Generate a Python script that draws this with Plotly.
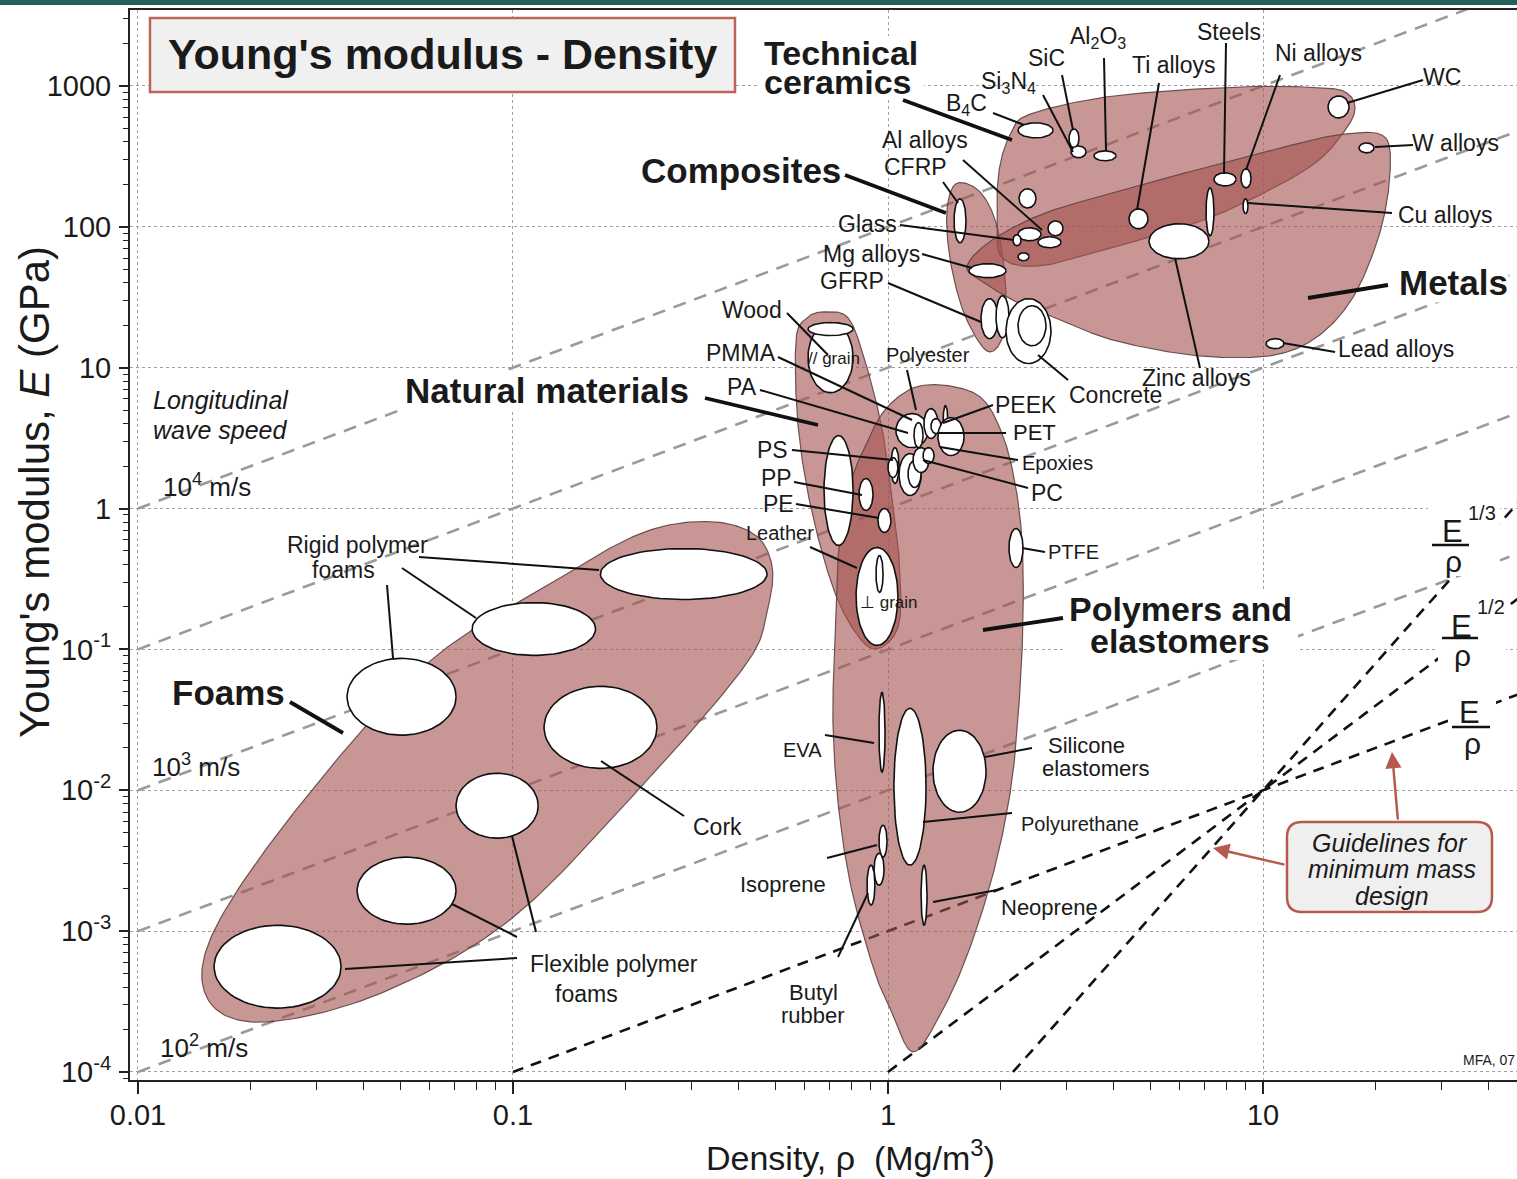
import numpy as np
import plotly.graph_objects as go

# ===================== DATA =====================
# Family envelopes: boundary control points (density Mg/m^3, modulus GPa)
FOAMS_RHO = [0.327, 0.4365, 0.4905, 0.476, 0.416, 0.219, 0.0988, 0.0445, 0.0217, 0.0154, 0.0158, 0.0261,
             0.0583, 0.129, 0.219]
FOAMS_E = [0.809, 0.665, 0.394, 0.189, 0.077, 0.0105, 0.00122, 3.63e-4, 2.26e-4, 3.24e-4, 9.52e-4, 0.00698,
           0.077, 0.304, 0.665]

NATURAL_RHO = [0.675, 0.782, 0.863, 0.958, 1.019, 1.070, 1.070, 0.946, 0.837, 0.718, 0.623, 0.575, 0.568, 0.604]
NATURAL_E = [24.9, 22.6, 11.8, 4.01, 1.342, 0.449, 0.153, 0.1016, 0.1217, 0.262, 1.016, 4.01, 15.5, 22.3]

POLYMERS_RHO = [1.173, 1.445, 1.770, 2.001, 2.168, 2.277, 2.291, 2.236, 2.128, 1.918, 1.634, 1.385, 1.166,
                1.018, 0.918, 0.797, 0.736, 0.713, 0.722, 0.736, 0.782, 0.884, 0.988]
POLYMERS_E = [7.21, 7.45, 6.13, 3.57, 1.66, 0.593, 0.1606, 0.0414, 0.0105, 0.00271, 6.98e-4, 2.62e-4, 1.39e-4,
              2.75e-4, 5.29e-4, 0.00205, 0.00809, 0.0314, 0.1158, 0.449, 1.342, 3.04, 5.12]

COMPOSITES_RHO = [1.518, 1.748, 1.941, 2.051, 2.051, 1.941, 1.792, 1.585, 1.463, 1.436]
COMPOSITES_E = [202, 180, 107, 44.9, 19.9, 13.6, 13.9, 25.4, 59.3, 130]

CERAMICS_RHO = [2.406, 4.005, 8.735, 14.54, 16.85, 17.59, 16.65, 14.02, 10.31, 6.835, 3.860, 2.559, 2.026,
                1.953, 1.977, 2.128]
CERAMICS_E = [633, 849, 984, 968, 877, 687, 495, 294, 180, 110, 69.8, 52.9, 59.3, 102, 250, 464]

METALS_RHO = [1.624, 1.882, 2.559, 3.860, 5.789, 8.735, 13.18, 16.65, 20.39, 21.81, 21.41, 19.77, 17.16,
              14.10, 11.17, 8.216, 5.789, 3.860, 2.840, 2.222, 1.803]
METALS_E = [52.0, 79.6, 122, 171, 230, 304, 407, 457, 457, 346, 153, 67.6, 29.9, 16.9, 12.57, 11.78, 12.78,
            16.06, 22.26, 28.9, 40.1]

# Material property bubbles: density range and modulus range
MAT_NAME = ["Rigid foam 1", "Rigid foam 2", "Rigid foam 3", "Cork", "Flexible foam 1", "Flexible foam 2",
            "Flexible foam 3",
            "Wood // grain", "Wood // grain cap", "Wood (other)", "Leather", "Wood perp grain",
            "PP", "PE", "PA", "PMMA", "Polyester", "Polyester b", "PEEK", "PET", "PS", "PS b", "PC", "PC b",
            "Epoxies", "Epoxies b", "PTFE", "EVA", "Polyurethane", "Silicone elastomers", "Isoprene",
            "Natural rubber", "Butyl rubber", "Neoprene",
            "CFRP", "GFRP", "GFRP b", "Concrete", "Concrete inner",
            "B4C", "SiC", "Si3N4", "Al2O3", "Glass ceramic", "Al alloys", "CFRP b", "Al alloys b", "Glass",
            "Silica", "Mg alloys", "Ti alloys", "Zinc alloys", "Cast irons", "Steels", "Ni alloys", "Cu alloys",
            "WC", "W alloys", "Lead alloys"]
RHO_LO = [0.171, 0.0778, 0.0361, 0.121, 0.0705, 0.0384, 0.01595,
          0.612, 0.612, 0.675, 0.822, 0.929,
          0.837, 0.940, 1.050, 1.173, 1.247, 1.302, 1.402, 1.359, 1.018, 1.000, 1.070, 1.131,
          1.166, 1.240, 2.102, 0.946, 1.037, 1.318, 0.946,
          0.918, 0.879, 1.225,
          1.500, 1.770, 1.941, 2.064, 2.222,
          2.222, 3.039, 3.076, 3.542, 2.236, 2.222, 2.671, 2.512, 2.154,
          2.222, 1.644, 4.392, 4.966, 7.047, 7.40, 8.735, 8.845,
          14.91, 18.03, 10.19]
RHO_HI = [0.476, 0.166, 0.0705, 0.242, 0.1167, 0.0705, 0.0348,
          0.807, 0.807, 0.807, 1.063, 0.970,
          0.912, 1.018, 1.278, 1.240, 1.359, 1.385, 1.445, 1.595, 1.070, 1.063, 1.225, 1.225,
          1.286, 1.327, 2.291, 0.982, 1.263, 1.826, 0.994,
          0.976, 0.923, 1.271,
          1.614, 1.965, 2.102, 2.720, 2.638,
          2.754, 3.231, 3.373, 4.055, 2.481, 2.559, 2.929, 2.893, 2.263,
          2.377, 2.064, 4.935, 7.178, 7.40, 8.472, 9.290, 9.12,
          16.96, 19.77, 11.38]
E_LO = [0.226, 0.0906, 0.0246, 0.0143, 0.00457, 0.00112, 2.84e-4,
        6.65, 16.9, 0.5465, 0.1067, 0.2537,
        0.968, 0.676, 2.707, 2.707, 3.137, 3.40, 3.035, 2.376, 1.504, 1.66, 1.236, 1.409,
        1.80, 2.085, 0.3815, 0.01342, 0.00294, 0.00698, 0.00335,
        0.00212, 0.00153, 0.0011,
        77.0, 16.06, 16.3, 10.7, 14.3,
        428, 363, 309, 294, 136, 79.6, 86.3, 71.0, 73.3,
        57.4, 43.5, 96.8, 59.3, 86.3, 195, 189, 124,
        593, 335, 13.64]
E_HI = [0.52, 0.215, 0.0863, 0.0547, 0.0132, 0.00335, 0.0011,
        20.9, 20.9, 3.295, 0.529, 0.464,
        1.633, 1.0, 4.72, 4.07, 5.12, 4.35, 5.38, 4.42, 2.707, 2.30, 2.455, 2.19,
        2.707, 2.707, 0.721, 0.0495, 0.0382, 0.02664, 0.00565,
        0.00357, 0.00294, 0.00294,
        158, 30.9, 32.4, 30.9, 27.5,
        547, 495, 375, 346, 186, 98.4, 110, 84.9, 87.8,
        65.4, 54.7, 134, 105, 189, 242, 258, 158,
        849, 394, 16.06]

# Longitudinal wave speed guide lines (m/s), and minimum-mass guideline exponents
WAVE_SPEED = [10000, 3162, 1000, 316, 100]
GUIDE_POWER = [1, 2, 3]          # E/rho, E^1/2/rho, E^1/3/rho
GUIDE_ANCHOR = (10, 0.01)        # common point (density, modulus)
E_FLOOR = 1e-4                   # lines start on the lowest grid line

X_TICKVALS = [0.01, 0.1, 1, 10]
X_TICKTEXT = ["0.01", "0.1", "1", "10"]
Y_TICKVALS = [1e-4, 1e-3, 1e-2, 1e-1, 1, 10, 100, 1000]
Y_TICKTEXT = ["10<sup>-4</sup>", "10<sup>-3</sup>", "10<sup>-2</sup>", "10<sup>-1</sup>", "1", "10", "100", "1000"]

# ===================== LAYOUT CONSTANTS =====================
FIG_W, FIG_H = 1517, 1179
M_L, M_R, M_T, M_B = 130, 0, 10, 99
PLOT_W = FIG_W - M_L - M_R
PLOT_H = FIG_H - M_T - M_B
X_RANGE = [-2.0213, 1.6773]
Y_RANGE = [-4.057, 3.539]
FONT = "Liberation Sans, Arial, Helvetica, sans-serif"
ENV_FILL = "rgba(163,82,78,0.60)"
ENV_LINE = "rgba(95,68,66,0.9)"
BROWN = "#b75a4e"
TXT = "#1a1a1a"


def PX(px):
    return (px - M_L) / PLOT_W


def PY(py):
    return (FIG_H - M_B - py) / PLOT_H


def closed_spline(rho, e, per=24):
    P = np.column_stack([np.log10(rho), np.log10(e)])
    n = len(P)
    segs = []
    t = np.linspace(0, 1, per, endpoint=False)[:, None]
    for i in range(n):
        p0, p1, p2, p3 = P[(i - 1) % n], P[i], P[(i + 1) % n], P[(i + 2) % n]
        q = 0.5 * ((2 * p1) + (-p0 + p2) * t + (2 * p0 - 5 * p1 + 4 * p2 - p3) * t ** 2 +
                   (-p0 + 3 * p1 - 3 * p2 + p3) * t ** 3)
        segs.append(q)
    out = np.vstack(segs + [segs[0][:1]])
    return 10 ** out[:, 0], 10 ** out[:, 1]


def ellipse(rlo, rhi, elo, ehi, n=72):
    lx0, lx1, ly0, ly1 = np.log10(rlo), np.log10(rhi), np.log10(elo), np.log10(ehi)
    cx, rx, cy, ry = (lx0 + lx1) / 2, (lx1 - lx0) / 2, (ly0 + ly1) / 2, (ly1 - ly0) / 2
    tt = np.linspace(0, 2 * np.pi, n)
    return 10 ** (cx + rx * np.cos(tt)), 10 ** (cy + ry * np.sin(tt))


fig = go.Figure()

# ---- wave-speed guide lines (gray dashed) ----
for c in WAVE_SPEED:
    k = (c / 1000.0) ** 2
    rho_line = np.array([max(0.01, E_FLOOR / k), 60.0])
    fig.add_trace(go.Scatter(x=rho_line, y=rho_line * k, mode="lines",
                             line=dict(color="#9a9a9a", width=2.6, dash="13px,9px"),
                             hoverinfo="skip", showlegend=False))

# ---- minimum mass guidelines (black dashed) ----
for p in GUIDE_POWER:
    r0 = GUIDE_ANCHOR[0] * (E_FLOOR / GUIDE_ANCHOR[1]) ** (1.0 / p)
    rho_g = np.array([r0, 60.0])
    fig.add_trace(go.Scatter(x=rho_g, y=GUIDE_ANCHOR[1] * (rho_g / GUIDE_ANCHOR[0]) ** p, mode="lines",
                             line=dict(color="#111111", width=2.6, dash="11px,8px"),
                             hoverinfo="skip", showlegend=False))

# ---- envelopes ----
for r, e in [(FOAMS_RHO, FOAMS_E), (NATURAL_RHO, NATURAL_E), (POLYMERS_RHO, POLYMERS_E),
             (COMPOSITES_RHO, COMPOSITES_E), (CERAMICS_RHO, CERAMICS_E), (METALS_RHO, METALS_E)]:
    xs, ys = closed_spline(r, e)
    fig.add_trace(go.Scatter(x=xs, y=ys, mode="lines", fill="toself", fillcolor=ENV_FILL,
                             line=dict(color=ENV_LINE, width=1.2), hoverinfo="skip", showlegend=False))

# ---- material bubbles ----
for name, a, b, c, d in zip(MAT_NAME, RHO_LO, RHO_HI, E_LO, E_HI):
    xs, ys = ellipse(a, b, c, d)
    fig.add_trace(go.Scatter(x=xs, y=ys, mode="lines", fill="toself", fillcolor="white",
                             line=dict(color="#111111", width=1.6), name=name,
                             hoverinfo="name", showlegend=False))

shapes = []
annotations = []


def line(x1, y1, x2, y2, w=2.0, color="#111111"):
    shapes.append(dict(type="line", xref="paper", yref="paper", x0=PX(x1), y0=PY(y1), x1=PX(x2), y1=PY(y2),
                       line=dict(color=color, width=w), layer="above"))


def rect(x1, y1, x2, y2, fill, lcolor=None, w=0):
    shapes.append(dict(type="rect", xref="paper", yref="paper", x0=PX(x1), y0=PY(y2), x1=PX(x2), y1=PY(y1),
                       fillcolor=fill, line=dict(color=lcolor or fill, width=w), layer="above"))


def text(t, px, py, size=23, bold=False, italic=False, anchor="center", bg=None, color=TXT, angle=0):
    if bold:
        t = "<b>" + t + "</b>"
    if italic:
        t = "<i>" + t + "</i>"
    annotations.append(dict(x=PX(px), y=PY(py), xref="paper", yref="paper", text=t, showarrow=False,
                            xanchor=anchor, yanchor="middle", textangle=angle,
                            font=dict(family=FONT, size=size, color=color),
                            bgcolor=bg, borderpad=0))


# teal strip at the top
rect(0, 0, 1517, 5, "#25605f")

# title box
rect(150, 18, 735, 92, "#f0f0f0", "#c0645a", 2.5)
text("Young's modulus - Density", 442, 54, 43, bold=True)

# white patches under guideline labels and two-line family labels
rect(1428, 500, 1500, 576, "white")
rect(1438, 598, 1506, 668, "white")
rect(1448, 695, 1496, 757, "white")
rect(760, 36, 924, 98, "white")
rect(1063, 590, 1298, 660, "white")
line(1432, 545, 1469, 545, 2.6)
line(1442, 638, 1478, 638, 2.6)
line(1452, 727, 1490, 727, 2.6)
text("E", 1452, 531, 31)
text("1/3", 1467, 513, 20, anchor="left")
text("ρ", 1453, 561, 30)
text("E", 1461, 626, 31)
text("1/2", 1476, 607, 20, anchor="left")
text("ρ", 1462, 655, 30)
text("E", 1469, 712, 31)
text("ρ", 1472, 743, 30)

# guideline box with arrows
x0, y0, x1, y1, r = 1287, 822, 1492, 912, 15
path = (f"M {PX(x0 + r)},{PY(y0)} L {PX(x1 - r)},{PY(y0)} Q {PX(x1)},{PY(y0)} {PX(x1)},{PY(y0 + r)} "
        f"L {PX(x1)},{PY(y1 - r)} Q {PX(x1)},{PY(y1)} {PX(x1 - r)},{PY(y1)} "
        f"L {PX(x0 + r)},{PY(y1)} Q {PX(x0)},{PY(y1)} {PX(x0)},{PY(y1 - r)} "
        f"L {PX(x0)},{PY(y0 + r)} Q {PX(x0)},{PY(y0)} {PX(x0 + r)},{PY(y0)} Z")
shapes.append(dict(type="path", xref="paper", yref="paper", path=path, fillcolor="#efefef",
                   line=dict(color=BROWN, width=2.5), layer="above"))
text("Guidelines for", 1390, 843, 25, italic=True)
text("minimum mass", 1392, 869, 25, italic=True)
text("design", 1392, 896, 25, italic=True)
for hx, hy, tx, ty in [(1392, 752, 1398, 821), (1213, 848, 1286, 865)]:
    annotations.append(dict(x=PX(hx), y=PY(hy), xref="paper", yref="paper", text="", showarrow=True,
                            ax=tx - hx, ay=ty - hy, arrowhead=2, arrowsize=1.3, arrowwidth=2.5,
                            arrowcolor=BROWN))

# ---- leader lines ----
THICK = [(903, 100, 1012, 140), (845, 175, 946, 213), (1388, 285, 1308, 298), (705, 398, 818, 425),
         (290, 702, 343, 733), (1063, 618, 983, 630)]
THIN = [(1104, 58, 1106, 150), (1062, 75, 1073, 130), (1043, 95, 1073, 152), (993, 113, 1024, 125),
        (1159, 83, 1137, 210), (1226, 43, 1224, 174), (1280, 75, 1246, 170), (1423, 80, 1347, 103),
        (1413, 145, 1375, 147), (1392, 213, 1248, 203), (1335, 352, 1283, 343), (1200, 368, 1175, 258),
        (1068, 380, 1038, 355), (963, 160, 1042, 230), (943, 182, 958, 203), (900, 225, 1014, 240),
        (922, 254, 972, 268), (888, 283, 981, 322), (787, 313, 828, 355), (778, 357, 912, 420),
        (760, 390, 908, 433), (792, 450, 893, 460), (794, 482, 862, 495), (796, 504, 879, 518),
        (810, 547, 857, 568), (907, 370, 916, 410), (993, 405, 943, 423), (1006, 433, 937, 433),
        (1018, 460, 940, 447), (1028, 488, 923, 460), (1045, 552, 1022, 548), (825, 735, 874, 743),
        (1032, 748, 985, 757), (1012, 813, 923, 822), (827, 858, 877, 845), (997, 890, 933, 902),
        (838, 957, 868, 893), (419, 557, 599, 570), (402, 568, 476, 618), (387, 585, 393, 658),
        (684, 816, 601, 761), (536, 932, 512, 836), (517, 937, 452, 904), (517, 958, 345, 969)]
for seg in THICK:
    line(*seg, w=3.8)
for seg in THIN:
    line(*seg, w=2.0)

# ---- family labels ----
text("Technical", 763, 53, 34, bold=True, anchor="left")
text("ceramics", 763, 82, 34, bold=True, anchor="left")
text("Composites", 741, 170, 35, bold=True, bg="white")
text("Metals", 1398, 283, 35, bold=True, anchor="left", bg="white")
text("Natural materials", 547, 390, 35, bold=True, bg="white")
text("Foams", 228, 692, 35, bold=True, bg="white")
text("Polymers and", 1180, 609, 34, bold=True)
text("elastomers", 1180, 641, 34, bold=True)

# ---- material labels ----
LABELS = [("Al<sub>2</sub>O<sub>3</sub>", 1098, 38, 23), ("SiC", 1046, 58, 23),
          ("Si<sub>3</sub>N<sub>4</sub>", 1008, 82, 23), ("B<sub>4</sub>C", 966, 105, 23),
          ("Ti alloys", 1174, 65, 23), ("Steels", 1229, 32, 23), ("Ni alloys", 1318, 53, 23),
          ("WC", 1442, 77, 23), ("W alloys", 1455, 143, 23), ("Cu alloys", 1445, 215, 23),
          ("Lead alloys", 1396, 349, 23), ("Zinc alloys", 1196, 378, 23), ("Concrete", 1115, 395, 23),
          ("Al alloys", 925, 140, 23), ("CFRP", 915, 167, 23), ("Glass", 867, 224, 23),
          ("Mg alloys", 871, 254, 23), ("GFRP", 852, 281, 23), ("Wood", 752, 310, 23),
          ("PMMA", 741, 353, 23), ("PA", 742, 387, 23), ("PS", 772, 450, 23), ("PP", 776, 478, 23),
          ("PE", 778, 504, 23), ("Leather", 780, 533, 20), ("Polyester", 928, 355, 20),
          ("PEEK", 1026, 405, 23), ("PET", 1034, 433, 22), ("Epoxies", 1057, 463, 20), ("PC", 1047, 493, 23),
          ("PTFE", 1073, 552, 20), ("EVA", 802, 750, 20), ("Silicone", 1086, 745, 22),
          ("elastomers", 1096, 768, 22), ("Polyurethane", 1080, 824, 20), ("Isoprene", 783, 884, 22),
          ("Neoprene", 1049, 907, 22), ("Butyl", 813, 992, 22), ("rubber", 813, 1015, 22),
          ("Rigid polymer", 357, 545, 23), ("foams", 343, 570, 23), ("Cork", 717, 827, 23),
          ("Flexible polymer", 614, 964, 23), ("foams", 586, 994, 23),
          ("// grain", 834, 358, 17), ("⊥ grain", 889, 602, 17)]
for t, px, py, s in LABELS:
    text(t, px, py, s)

text("Longitudinal", 152, 400, 25, italic=True, anchor="left")
text("wave speed", 152, 430, 25, italic=True, anchor="left")
text("10<sup>4</sup> m/s", 162, 485, 26, anchor="left")
text("10<sup>3</sup> m/s", 151, 765, 26, anchor="left")
text("10<sup>2</sup> m/s", 159, 1046, 26, anchor="left")
text("MFA, 07", 1462, 1060, 14, anchor="left")

# axis titles
text("Density, ρ  (Mg/m<sup>3</sup>)", 850, 1155, 34)
text("Young's modulus, <i>E</i> (GPa)", 35, 492, 42, angle=-90)

MINOR_X = [m * 10.0 ** k for k in range(-3, 3) for m in range(2, 10)]
MINOR_Y = [m * 10.0 ** k for k in range(-5, 4) for m in range(2, 10)]

fig.update_layout(
    width=FIG_W, height=FIG_H, margin=dict(l=M_L, r=M_R, t=M_T, b=M_B, pad=0),
    paper_bgcolor="white", plot_bgcolor="white", showlegend=False,
    font=dict(family=FONT, size=29, color=TXT),
    shapes=shapes, annotations=annotations,
    xaxis=dict(type="log", range=X_RANGE, tickmode="array", tickvals=X_TICKVALS, ticktext=X_TICKTEXT,
               ticks="outside", ticklen=12, tickwidth=1.5, tickcolor="#222", showline=True, linewidth=2,
               linecolor="#222", mirror=True, showgrid=True, gridcolor="#a0a0a0", griddash="dot",
               gridwidth=1.3, zeroline=False, ticklabelstandoff=-4,
               tickfont=dict(family=FONT, size=29, color=TXT),
               minor=dict(tickmode="array", tickvals=MINOR_X, ticks="outside", ticklen=8, tickwidth=1.3,
                          tickcolor="#222", showgrid=False)),
    yaxis=dict(type="log", range=Y_RANGE, tickmode="array", tickvals=Y_TICKVALS, ticktext=Y_TICKTEXT,
               ticks="outside", ticklen=9, tickwidth=1.5, tickcolor="#222", showline=True, linewidth=2,
               linecolor="#222", mirror=False, showgrid=True, gridcolor="#a0a0a0", griddash="dot",
               gridwidth=1.3, zeroline=False, ticklabelstandoff=2,
               tickfont=dict(family=FONT, size=29, color=TXT),
               minor=dict(tickmode="array", tickvals=MINOR_Y, ticks="outside", ticklen=5, tickwidth=1.3,
                          tickcolor="#222", showgrid=False)),
)

fig.write_html("out.html", config={"displayModeBar": False},
               post_script="document.body.style.margin='0';")
